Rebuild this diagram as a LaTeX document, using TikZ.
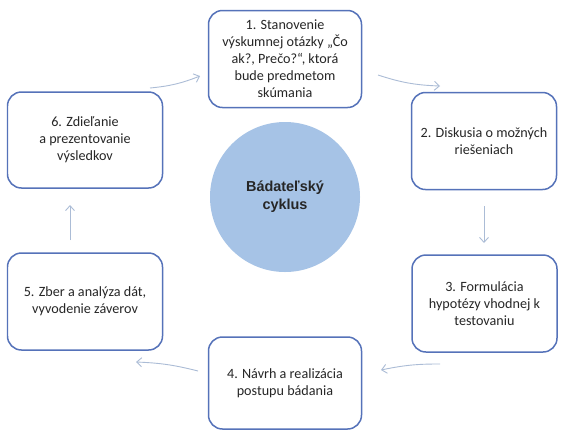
\documentclass[tikz,border=0pt]{standalone}
\usepackage{fontspec}
\setmainfont{Carlito}
\newfontfamily\circfont{Liberation Sans}
\usetikzlibrary{arrows.meta}
\definecolor{boxblue}{HTML}{5572B9}
\definecolor{circblue}{HTML}{A6C3E6}
\definecolor{arrcol}{HTML}{ABBCD6}
\tikzset{
  stepbox/.style={draw=boxblue, line width=1.5pt, rounded corners=14pt, fill=white, align=center, inner sep=0pt, font=\fontsize{14.2}{17}\selectfont, text=black!85},
  arr/.style={draw=arrcol, line width=0.9pt, -{Straight Barb[length=5pt,width=9pt]}},
}
\begin{document}
\begin{tikzpicture}[x=1bp,y=-1bp]
\useasboundingbox (0,0) rectangle (563,432);
\fill[white] (0,0) rectangle (563,432);
% boxes
\node[stepbox, minimum width=153bp, minimum height=97bp] (b1) at (285,59) {1. Stanovenie\\výskumnej otázky „Čo\\ak?, Prečo?“, ktorá\\bude predmetom\\skúmania};
\node[stepbox, minimum width=145bp, minimum height=97bp] (b2) at (484,141) {2. Diskusia o možných\\riešeniach};
\node[stepbox, minimum width=145bp, minimum height=97bp] (b3) at (484.5,303.5) {3. Formulácia\\hypotézy vhodnej k\\testovaniu};
\node[stepbox, minimum width=153bp, minimum height=92bp] (b4) at (285,383) {4. Návrh a realizácia\\postupu bádania};
\node[stepbox, minimum width=155bp, minimum height=97bp] (b5) at (85,301.5) {5. Zber a analýza dát,\\vyvodenie záverov};
\node[stepbox, minimum width=155bp, minimum height=96bp] (b6) at (85,140) {6. Zdieľanie\\a prezentovanie\\výsledkov};
% center circle
\node[circle, fill=circblue, minimum size=150bp, inner sep=0pt, align=center,
      font=\circfont\bfseries\fontsize{14.5}{18}\selectfont, text=black!85] (c) at (285,197) {Bádateľský\\cyklus};
% arrow end points
\coordinate (s61) at (150,88);  \coordinate (e61) at (200,76);
\coordinate (s12) at (378,75);  \coordinate (e12) at (440,86);
\coordinate (s23) at (484,206); \coordinate (e23) at (484,243);
\coordinate (s34) at (440,364); \coordinate (e34) at (381,370);
\coordinate (s45) at (198,371); \coordinate (e45) at (136,362);
\coordinate (s56) at (70,240);  \coordinate (e56) at (70,205);
\draw[arr] (s61) to[bend right=8] (e61);
\draw[arr] (s12) to[bend right=8] (e12);
\draw[arr] (s23) -- (e23);
\draw[arr] (s34) to[bend right=6] (e34);
\draw[arr] (s45) to[bend right=6] (e45);
\draw[arr] (s56) -- (e56);
\end{tikzpicture}
\end{document}
